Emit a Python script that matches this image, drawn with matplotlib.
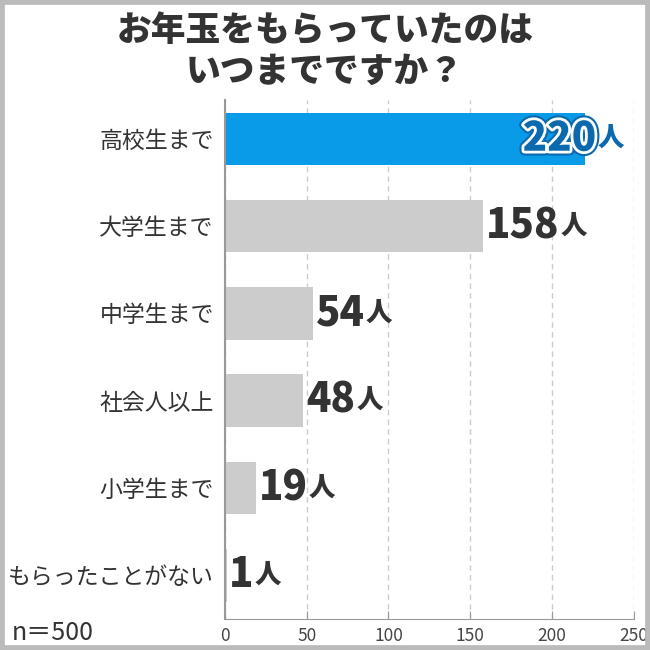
import matplotlib.pyplot as plt
import matplotlib.patheffects as pe
from matplotlib.patches import Rectangle

plt.rcParams['font.family'] = ['Noto Sans CJK JP', 'DejaVu Sans']

categories = ["高校生まで", "大学生まで", "中学生まで", "社会人以上", "小学生まで", "もらったことがない"]
counts = [220, 158, 54, 48, 19, 1]
xticks = [0, 50, 100, 150, 200, 250]
title = "お年玉をもらっていたのは\nいつまでですか？"
note = "n＝500"

dark = "#333333"
blue = "#0a9be8"
blue_dark = "#0b6aad"
gray_bar = "#cccccc"

fig = plt.figure(figsize=(6.5, 6.5), dpi=100)
fig.patches.append(Rectangle((0, 0), 1, 1, transform=fig.transFigure,
                             fill=False, edgecolor="#bbbbbb", linewidth=7))

ax = fig.add_axes([0.346, 0.0477, 0.629, 0.798])
ypos = list(range(len(categories)))
colors = [blue] + [gray_bar] * (len(categories) - 1)
ax.barh(ypos, counts, height=0.6, color=colors, zorder=2)

ax.set_xlim(0, 250)
ax.set_ylim(5.5, -0.44)
ax.set_xticks(xticks)
ax.set_yticks(ypos)
ax.set_yticklabels(categories, fontsize=16.5, color=dark)
ax.tick_params(axis="y", length=0, pad=8)
ax.tick_params(axis="x", direction="in", length=6, color="#999999",
               labelsize=12.5, labelcolor="#444444", pad=6)
ax.grid(axis="x", linestyle=(0, (4, 3)), color="#cccccc", linewidth=1, zorder=0)
for s in ["top", "right"]:
    ax.spines[s].set_visible(False)
ax.spines["left"].set_color("#999999")
ax.spines["bottom"].set_color("#999999")
ax.spines["left"].set_linewidth(1.5)

for i, v in enumerate(counts):
    if i == 0:
        t = ax.text(227, i, str(v), ha="right", va="center", fontsize=29,
                    fontweight="heavy", color=blue_dark, zorder=3,
                    path_effects=[pe.withStroke(linewidth=7, foreground=blue_dark),
                                  pe.withStroke(linewidth=4, foreground="white")])
        unit_color = blue_dark
    else:
        t = ax.text(v + 1.5, i, str(v), ha="left", va="center", fontsize=29,
                    fontweight="heavy", color=dark, zorder=3)
        unit_color = dark
    ax.annotate("人", xy=(1, 0.18), xycoords=t, xytext=(1, 0),
                textcoords="offset points", ha="left", va="bottom",
                fontsize=19, fontweight="heavy", color=unit_color, zorder=3)

fig.text(0.5, 0.922, title, ha="center", va="center", fontsize=25,
         fontweight="heavy", color=dark, linespacing=1.2)
fig.text(0.018, 0.026, note, ha="left", va="center", fontsize=18, color=dark)

fig.savefig("out.png", dpi=100)
